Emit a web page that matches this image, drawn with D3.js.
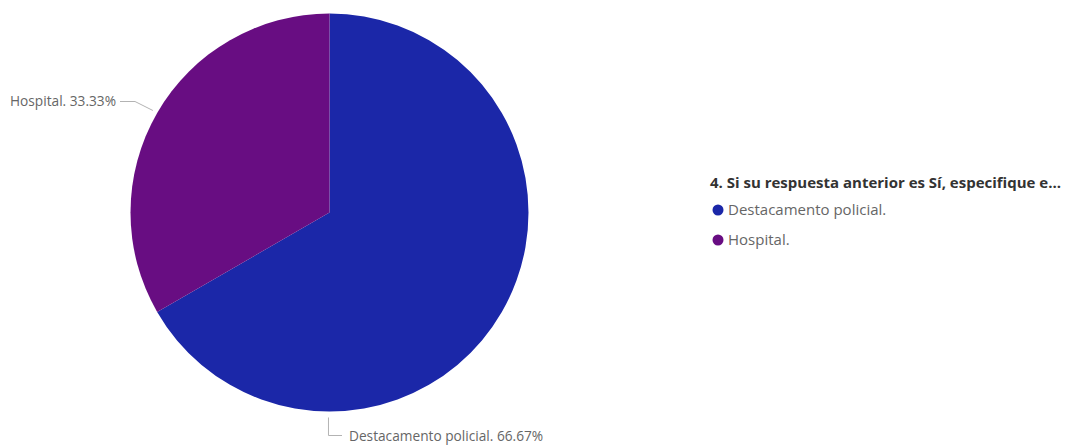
<!DOCTYPE html>
<html>
<head>
<meta charset="utf-8">
<script src="https://cdn.jsdelivr.net/npm/d3@7"></script>
<style>
  html, body { margin: 0; padding: 0; background: #ffffff; }
  svg { display: block; font-family: "Segoe UI", "Open Sans", "Noto Sans", sans-serif; }
</style>
</head>
<body>
<svg id="chart" width="1065" height="445"></svg>
<script>
// Survey answers and their shares
const categories = ["Destacamento policial.", "Hospital."];
const values = [66.67, 33.33];
const colors = ["#1B27A8", "#680D82"];
const legendTitle = "4. Si su respuesta anterior es Sí, especifique e...";

const svg = d3.select("#chart");
const cx = 329.5, cy = 212.5, radius = 199;

const pie = d3.pie().sort(null).value(d => d.value);
const arcs = pie(categories.map((c, i) => ({ name: c, value: values[i], color: colors[i] })));
const arc = d3.arc().innerRadius(0).outerRadius(radius);

const g = svg.append("g").attr("transform", `translate(${cx},${cy})`);
g.selectAll("path.slice")
  .data(arcs)
  .join("path")
  .attr("class", "slice")
  .attr("d", arc)
  .attr("fill", d => d.data.color);

// Leader lines and data labels
const fmt = v => v.toFixed(2) + "%";
const labelColor = "#666666";
const lineColor = "#b3b3b3";
const labelSize = 13.7;

// point just outside the rim at a given angle
const rimPoint = (a, off) => d3.arc().innerRadius(radius + off).outerRadius(radius + off)
  .centroid({ startAngle: a, endAngle: a });

// Hospital slice: label out to the upper left
{
  const d = arcs[1];
  const p0 = rimPoint((d.startAngle + d.endAngle) / 2, 5);
  const elbow = [135 - cx, 101.5 - cy];
  const end = [120 - cx, 101.5 - cy];
  g.append("polyline")
    .attr("points", [p0, elbow, end].map(p => p.join(",")).join(" "))
    .attr("fill", "none").attr("stroke", lineColor).attr("stroke-width", 1);
  g.append("text")
    .attr("x", end[0] - 4).attr("y", end[1])
    .attr("dy", "0.35em")
    .attr("text-anchor", "end")
    .attr("fill", labelColor)
    .attr("font-size", labelSize)
    .text(d.data.name + " " + fmt(d.data.value));
}

// Destacamento slice: label below the pie
{
  const d = arcs[0];
  const p0 = rimPoint(Math.PI + 0.005, 6);
  const elbow = [p0[0], 435.5 - cy];
  const end = [342 - cx, 435.5 - cy];
  g.append("polyline")
    .attr("points", [p0, elbow, end].map(p => p.join(",")).join(" "))
    .attr("fill", "none").attr("stroke", lineColor).attr("stroke-width", 1);
  g.append("text")
    .attr("x", end[0] + 7).attr("y", end[1] + 1)
    .attr("dy", "0.35em")
    .attr("text-anchor", "start")
    .attr("fill", labelColor)
    .attr("font-size", labelSize)
    .text(d.data.name + " " + fmt(d.data.value));
}

// Legend
const legend = svg.append("g").attr("transform", "translate(710,0)");
legend.append("text")
  .attr("x", 0).attr("y", 188)
  .attr("fill", "#333333")
  .attr("font-size", 15)
  .attr("font-weight", "bold")
  .text(legendTitle);

const items = legend.selectAll("g.item")
  .data(categories)
  .join("g")
  .attr("class", "item")
  .attr("transform", (d, i) => `translate(0,${210 + i * 30})`);
items.append("circle")
  .attr("cx", 8).attr("cy", 0).attr("r", 5.5)
  .attr("fill", (d, i) => colors[i]);
items.append("text")
  .attr("x", 18).attr("y", 0)
  .attr("dy", "0.35em")
  .attr("fill", labelColor)
  .attr("font-size", 15)
  .text(d => d);
</script>
</body>
</html>
